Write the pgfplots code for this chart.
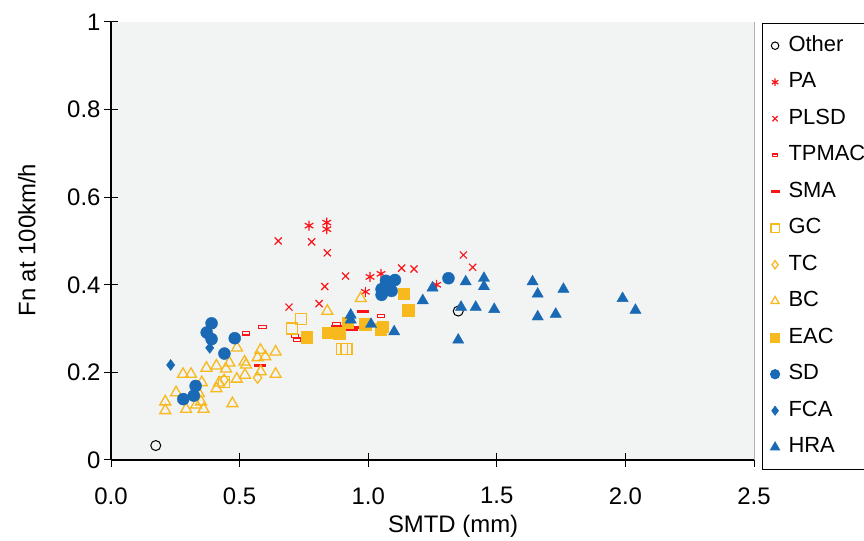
\documentclass[border=0pt]{standalone}
\usepackage{fontspec}
\setmainfont{Liberation Sans}
\usepackage{pgfplots}
\pgfplotsset{compat=1.18}
\definecolor{cred}{RGB}{250,20,25}
\definecolor{cgold}{RGB}{247,185,30}
\definecolor{cblue}{RGB}{25,105,180}
\definecolor{bg}{RGB}{242,243,243}
\begin{document}
\begin{tikzpicture}[x=1bp,y=1bp]
\begin{axis}[
  at={(111bp,81bp)}, anchor=south west,
  scale only axis, width=643bp, height=438bp,
  xmin=0, xmax=2.5, ymin=0, ymax=1,
  axis x line*=bottom, axis y line*=left,
  axis line style={-, line width=1.2bp, black},
  axis background/.style={fill=bg},
  xtick={0,0.5,1,1.5,2,2.5},
  xticklabels={0.0,0.5,1.0,1.5,2.0,2.5},
  ytick={0,0.2,0.4,0.6,0.8,1},
  yticklabels={0,0.2,0.4,0.6,0.8,1},
  tick align=center, major tick length=14bp,
  tick style={black, line width=1bp},
  ticklabel style={font=\fontsize{24}{28}\selectfont},
  xticklabel style={yshift=-17bp},
  yticklabel style={xshift=0bp},
  xlabel={SMTD (mm)},
  ylabel={Fn at 100km/h},
  label style={font=\fontsize{24}{28}\selectfont},
  xlabel style={at={(axis description cs:0.532,-0.152)}, anchor=center},
  ylabel style={at={(axis description cs:-0.131,0.502)}, anchor=center, rotate=0},
  legend style={at={(axis description cs:1.0124,0.998)}, anchor=north west,
    draw=black, line width=1.2bp, fill=white,
    font=\fontsize{22}{26}\selectfont,
    nodes={text height=16bp, text depth=4.5bp, inner ysep=8bp},
    row sep=0bp, inner xsep=8bp, inner ysep=4bp,
    /tikz/every odd column/.append style={column sep=7bp}},
  legend image post style={every mark/.append style={scale=0.75}},
  legend cell align=left,
  clip=false,
]
\addplot[only marks, mark=o, mark size=5bp, mark options={black, line width=1bp}]
coordinates {(0.174,0.033) (1.35,0.34)};
\addlegendentry{Other}

\addplot[only marks, mark=asterisk, mark size=5bp, mark options={cred, line width=1.2bp}]
coordinates {(0.77,0.535) (0.839,0.542) (0.839,0.527) (1.007,0.418) (1.05,0.425) (0.989,0.384) (1.266,0.40)};
\addlegendentry{PA}

\addplot[only marks, mark=x, mark size=5bp, mark options={cred, line width=1.2bp}]
coordinates {(0.65,0.50) (0.78,0.498) (0.841,0.473) (0.912,0.42) (1.13,0.438) (1.178,0.436) (1.37,0.468) (1.406,0.44) (0.831,0.396) (0.692,0.349) (0.809,0.357)};
\addlegendentry{PLSD}

\addplot[only marks, mark=square, mark size=2.6bp, mark options={cred, line width=1.1bp, xscale=1.4, yscale=0.6}]
coordinates {(0.525,0.289) (0.589,0.304) (0.715,0.283) (0.722,0.275) (1.05,0.329) (0.877,0.31)};
\addlegendentry{TPMAC}

\addplot[only marks, mark=-, mark size=6bp, mark options={cred, line width=3bp}]
coordinates {(0.579,0.215) (0.981,0.339) (0.877,0.305) (0.936,0.298) (0.955,0.302)};
\addlegendentry{SMA}

\addplot[only marks, mark=square, mark size=5.5bp, mark options={cgold, line width=1.3bp}]
coordinates {(0.739,0.322) (0.703,0.30) (0.897,0.253) (0.916,0.253) (0.44,0.178)};
\addlegendentry{GC}

\addplot[only marks, mark=diamond, mark size=5.5bp, mark options={cgold, line width=1.3bp}]
coordinates {(0.44,0.183) (0.57,0.188)};
\addlegendentry{TC}

\addplot[only marks, mark=triangle, mark size=6.3bp, mark options={cgold, line width=1.3bp}]
coordinates {(0.49,0.256) (0.581,0.251) (0.640,0.247) (0.60,0.236) (0.57,0.234) (0.519,0.224) (0.46,0.222) (0.41,0.215) (0.371,0.21) (0.447,0.208) (0.525,0.217) (0.582,0.202) (0.64,0.196) (0.521,0.194) (0.489,0.185) (0.28,0.196) (0.311,0.196) (0.353,0.177) (0.42,0.176) (0.41,0.163) (0.253,0.154) (0.342,0.152) (0.211,0.133) (0.35,0.133) (0.292,0.116) (0.211,0.113) (0.331,0.126) (0.36,0.116) (0.472,0.129) (0.841,0.34) (0.971,0.369)};
\addlegendentry{BC}

\addplot[only marks, mark=square*, mark size=5.8bp, mark options={cgold, fill=cgold}]
coordinates {(1.138,0.38) (1.156,0.342) (0.988,0.31) (1.056,0.304) (1.048,0.298) (0.842,0.291) (0.888,0.289) (0.761,0.281) (0.92,0.313)};
\addlegendentry{EAC}

\addplot[only marks, mark=*, mark size=6bp, mark options={cblue, fill=cblue}]
coordinates {(0.391,0.312) (0.372,0.291) (0.391,0.276) (0.481,0.278) (0.441,0.243) (0.329,0.169) (0.322,0.147) (0.281,0.139) (1.069,0.409) (1.104,0.411) (1.091,0.386) (1.052,0.377) (1.052,0.39) (1.312,0.415)};
\addlegendentry{SD}

\addplot[only marks, mark=diamond*, mark size=5.5bp, mark options={cblue, fill=cblue}]
coordinates {(0.384,0.256) (0.232,0.217)};
\addlegendentry{FCA}

\addplot[only marks, mark=triangle*, mark size=6.5bp, mark options={cblue, fill=cblue}]
coordinates {(0.932,0.331) (0.932,0.32) (1.011,0.31) (1.101,0.293) (1.212,0.364) (1.25,0.393) (1.379,0.407) (1.361,0.349) (1.418,0.349) (1.35,0.274) (1.45,0.415) (1.45,0.396) (1.49,0.344) (1.639,0.407) (1.659,0.379) (1.759,0.39) (1.659,0.327) (1.729,0.333) (1.989,0.369) (2.039,0.342)};
\addlegendentry{HRA}

\draw[gray!60, line width=1bp] (rel axis cs:1,0) -- (rel axis cs:1,1);
\end{axis}
\pgfresetboundingbox
\useasboundingbox (0,0) rectangle (864,541);
\end{tikzpicture}
\end{document}
